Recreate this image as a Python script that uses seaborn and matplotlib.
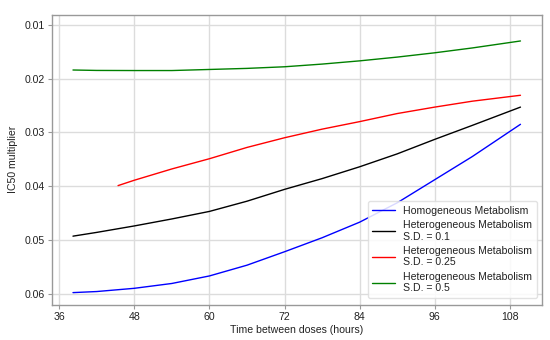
import matplotlib
matplotlib.use("Agg")
import matplotlib.pyplot as plt
import seaborn as sns
import pandas as pd

x_common = [38.2, 42, 48, 54, 60, 66, 72, 78, 84, 90, 96, 102, 109.7]
x_red = [45.4, 48, 54, 60, 66, 72, 78, 84, 90, 96, 102, 109.7]

homogeneous = [0.0598, 0.0596, 0.0590, 0.0581, 0.0567, 0.0547, 0.0522, 0.0496,
               0.0467, 0.0431, 0.0388, 0.0345, 0.0285]
hetero_01 = [0.0493, 0.0486, 0.0474, 0.0461, 0.0447, 0.0428, 0.0406, 0.0386,
             0.0364, 0.0340, 0.0313, 0.0287, 0.0253]
hetero_025 = [0.0399, 0.0389, 0.0368, 0.0349, 0.0328, 0.0310, 0.0294, 0.0280,
              0.0265, 0.0253, 0.0242, 0.0231]
hetero_05 = [0.0184, 0.01848, 0.0185, 0.0185, 0.0183, 0.0181, 0.0178, 0.0173,
             0.0167, 0.0160, 0.0152, 0.0143, 0.0130]

labels = ["Homogeneous Metabolism",
          "Heterogeneous Metabolism\nS.D. = 0.1",
          "Heterogeneous Metabolism\nS.D. = 0.25",
          "Heterogeneous Metabolism\nS.D. = 0.5"]
colors = ["blue", "black", "red", "green"]
x_ticks = [36, 48, 60, 72, 84, 96, 108]
y_ticks = [0.01, 0.02, 0.03, 0.04, 0.05, 0.06]

frames = []
for lab, xs, ys in zip(labels, [x_common, x_common, x_red, x_common],
                       [homogeneous, hetero_01, hetero_025, hetero_05]):
    frames.append(pd.DataFrame({"x": xs, "y": ys, "series": lab}))
df = pd.concat(frames, ignore_index=True)

sns.set_theme(style="whitegrid")
plt.rcParams["font.family"] = ["Liberation Sans", "DejaVu Sans"]

FS = 7.6
fig = plt.figure(figsize=(5.5, 3.4), dpi=100)
ax = fig.add_axes([0.094, 0.103, 0.891, 0.854])
sns.lineplot(data=df, x="x", y="y", hue="series", hue_order=labels,
             palette=dict(zip(labels, colors)), linewidth=1.0, ax=ax,
             estimator=None, sort=True)

ax.set_xlim(34.8, 113.1)
ax.set_ylim(0.0621, 0.0081)
ax.set_xticks(x_ticks)
ax.set_yticks(y_ticks)
ax.set_yticklabels([f"{v:.2f}" for v in y_ticks])
ax.tick_params(axis="both", labelsize=FS, length=3, width=0.8, color="#999999",
               pad=2, left=True, bottom=True, labelcolor="#222222")
ax.set_xlabel("Time between doses (hours)", fontsize=FS, labelpad=2, color="#222222")
ax.set_ylabel("IC50 multiplier", fontsize=FS, labelpad=5, color="#222222")
ax.grid(True, color="#dcdcdc", linewidth=1.0)
for s in ax.spines.values():
    s.set_color("#999999")
    s.set_linewidth(1.0)

leg = ax.legend(loc="lower right", bbox_to_anchor=(0.99, 0.024), borderaxespad=0,
                fontsize=FS, frameon=True, handlelength=2.1, handletextpad=0.8,
                labelspacing=0.4, borderpad=0.45, fancybox=True, framealpha=0.85)
leg.set_title(None)
leg.get_frame().set_edgecolor("#dddddd")
for t in leg.get_texts():
    t.set_color("#222222")

fig.savefig("out.png", dpi=100)
